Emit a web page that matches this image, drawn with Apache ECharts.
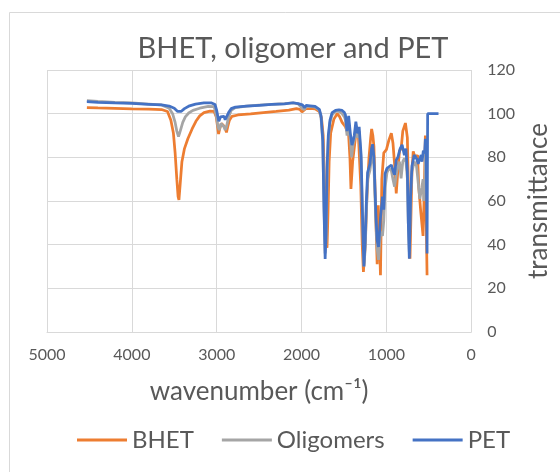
<!DOCTYPE html>
<html>
<head>
<meta charset="utf-8">
<script src="https://cdn.jsdelivr.net/npm/echarts@6/dist/echarts.min.js"></script>
<style>
html,body{margin:0;padding:0;background:#fff;}
#chart{width:560px;height:472px;}
</style>
</head>
<body>
<div id="chart"></div>
<script>
var seriesNames = ['BHET', 'Oligomers', 'PET'];
var xTicks = [0, 1000, 2000, 3000, 4000, 5000];
var yTicks = [0, 20, 40, 60, 80, 100, 120];

var bhetWn = [4530,4400,4200,4000,3800,3650,3580,3540,3510,3490,3470,3455,3445,3430,3410,3380,3340,3290,3245,3200,3150,3080,3030,3005,2990,2978,2965,2945,2925,2905,2885,2870,2850,2820,2750,2600,2450,2300,2150,2060,2020,1995,1975,1950,1900,1840,1790,1765,1745,1725,1712,1700,1688,1675,1657,1619,1580,1550,1522,1483,1445,1430,1418,1398,1375,1356,1329,1302,1285,1271,1250,1232,1205,1185,1174,1160,1147,1124,1109,1096,1083,1070,1054,1031,1000,970,942,923,904,884,865,846,826,807,776,753,737,722,699,684,660,633,618,595,568,553,541,530,521];
var bhetT = [102.8,102.6,102.4,102.2,102.1,101.9,101,97,91,82,70,62,60.5,68,78,84,88.5,93,96.5,99,100.5,101.2,101,98.5,94,90.7,93,95.5,95.7,94,91.4,94,97,98.8,99.4,99.9,100.5,101,101.6,102.3,102,100.8,101.5,102.3,102.4,102.2,101,98,90,62,45,38.5,55,78,91,97.5,100,98.5,96,94,90,80,65.5,78,85.6,92,89,67,40,27.5,40,60,80,89,93,90,85,51,31,58,44,26,70,82,83.5,88,91,86.6,77,63.5,74,83,84,92,95.7,89,58,33.6,73.5,82.7,79.6,81,66,55,44,65,90,50,26];

var oligWn = [4530,4400,4200,4000,3800,3650,3560,3520,3490,3470,3450,3430,3400,3370,3330,3280,3200,3100,3030,3005,2985,2970,2950,2935,2915,2900,2885,2860,2830,2780,2650,2500,2350,2200,2100,2040,1995,1970,1945,1900,1840,1790,1770,1750,1735,1722,1710,1698,1685,1665,1640,1600,1560,1522,1495,1483,1464,1445,1425,1410,1392,1379,1360,1340,1321,1298,1278,1265,1250,1238,1222,1194,1175,1162,1147,1124,1109,1093,1070,1046,1031,1016,993,970,942,923,904,884,876,846,827,807,788,770,753,742,730,715,699,672,645,633,606,583,568,560,545,538,530];
var oligT = [106,105.6,105.2,104.9,104.4,104,102.5,100,96,92,89.5,92,96,98.5,100.3,101.5,102.5,103.3,103.2,99,94,92.5,95.5,96,94,92.5,94,98.5,101.5,102.8,103.5,103.9,104.3,104.6,104.9,104.5,102.5,101.8,103.2,103.3,103,101.5,98,87,57,36,42,70,88,96,99.5,101,101,100,98.5,97,90,96,88,80,86,88,93,89,92,78,45,30,38,52,70,74,80,83,76,50,38,33,46,44,51,66,73,75,74,70,66.6,72,74,78,70.4,78,79.6,78,70.4,50,36.7,62,73.5,78,76,76.6,61,66,70,60,69,88,64];

var petWn = [4530,4400,4200,4000,3800,3650,3560,3500,3460,3440,3420,3380,3320,3250,3150,3060,3020,3000,2975,2955,2935,2915,2900,2880,2860,2830,2780,2650,2500,2350,2200,2100,2040,1990,1965,1945,1900,1840,1790,1770,1750,1735,1722,1712,1700,1685,1665,1640,1600,1560,1522,1495,1483,1464,1445,1425,1406,1390,1379,1360,1340,1321,1298,1278,1265,1250,1238,1222,1194,1175,1162,1147,1124,1109,1093,1070,1046,1031,1016,993,970,942,923,904,884,865,838,815,800,788,770,753,742,730,715,699,672,645,625,606,590,580,565,550,541,531,521,514,386];
var petT = [105.5,105.2,104.9,104.7,104.3,104,103.5,102.5,101,100.7,101,102.3,103.6,104.4,104.9,104.9,104.2,101.5,96.5,98.5,99.2,98.8,97.2,98,100.5,102.3,103,103.4,103.8,104.2,104.5,105,104.6,104,102.8,103.8,103.6,103.3,102,99,88,55,33.5,45,75,90,97,100.5,101.5,101.8,101.5,100.5,99.5,92,99,91,85.6,88,90,96.3,91,94,81,48,30,42,58,73,77,84,86,80,54,42,39,52,62,56,72.5,75,75.7,76.5,74,72,78.8,80,84,85.7,83,81,84,73.4,50,33.6,62,76,81,79.5,77,79.5,81,78,83,82,88.5,84,36,100,100];

function pairs(xs, ys) {
  var out = [];
  for (var i = 0; i < xs.length; i++) out.push([xs[i], ys[i]]);
  return out;
}

var colors = ['#ED7D31', '#A5A5A5', '#4472C4'];
var FONT = 'Lato, "Open Sans", sans-serif';
var TXT = '#595959';

var chart = echarts.init(document.getElementById('chart'), null, {renderer: 'canvas'});
chart.setOption({
  animation: false,
  backgroundColor: '#ffffff',
  color: colors,
  graphic: [{
    type: 'rect',
    shape: {x: 9.5, y: 12.5, width: 620, height: 520},
    style: {fill: 'none', stroke: '#D9D9D9', lineWidth: 1},
    silent: true
  }],
  title: {
    text: 'BHET, oligomer and PET',
    left: 288, top: 29, textAlign: 'center',
    textStyle: {fontFamily: FONT, fontSize: 29, fontWeight: 'normal', color: TXT}
  },
  legend: {
    data: seriesNames,
    left: 72, top: 423,
    icon: 'rect', itemWidth: 50, itemHeight: 3, itemGap: 28,
    textStyle: {fontFamily: FONT, fontSize: 24, color: TXT}
  },
  grid: {left: 47, right: 82, top: 70, bottom: 140, containLabel: false},
  xAxis: {
    type: 'value', inverse: true,
    min: xTicks[0], max: xTicks[xTicks.length - 1], interval: 1000,
    name: 'wavenumber (cm⁻¹)', nameLocation: 'middle', nameGap: 47,
    nameTextStyle: {fontFamily: FONT, fontSize: 26, color: TXT},
    axisLine: {show: true, lineStyle: {color: '#D9D9D9', width: 1}},
    axisTick: {show: false},
    axisLabel: {fontFamily: FONT, fontSize: 16, color: TXT, margin: 15,
                formatter: function (v) { return String(v); }},
    splitLine: {show: true, lineStyle: {color: '#D9D9D9', width: 1}}
  },
  yAxis: {
    type: 'value', position: 'right',
    min: yTicks[0], max: yTicks[yTicks.length - 1], interval: 20,
    name: 'transmittance', nameLocation: 'middle', nameGap: 49, nameRotate: 90,
    nameTextStyle: {fontFamily: FONT, fontSize: 26, color: TXT},
    axisLine: {show: false},
    axisTick: {show: false},
    axisLabel: {fontFamily: FONT, fontSize: 16, color: TXT, margin: 16,
                formatter: function (v) { return String(v); }},
    splitLine: {show: true, lineStyle: {color: '#D9D9D9', width: 1}}
  },
  series: [
    {name: seriesNames[0], type: 'line', data: pairs(bhetWn, bhetT), showSymbol: false, symbol: 'none',
     lineStyle: {width: 2.75, color: colors[0]}, z: 2},
    {name: seriesNames[1], type: 'line', data: pairs(oligWn, oligT), showSymbol: false, symbol: 'none',
     lineStyle: {width: 2.75, color: colors[1]}, z: 3},
    {name: seriesNames[2], type: 'line', data: pairs(petWn, petT), showSymbol: false, symbol: 'none',
     lineStyle: {width: 2.75, color: colors[2]}, z: 4}
  ]
});
</script>
</body>
</html>
